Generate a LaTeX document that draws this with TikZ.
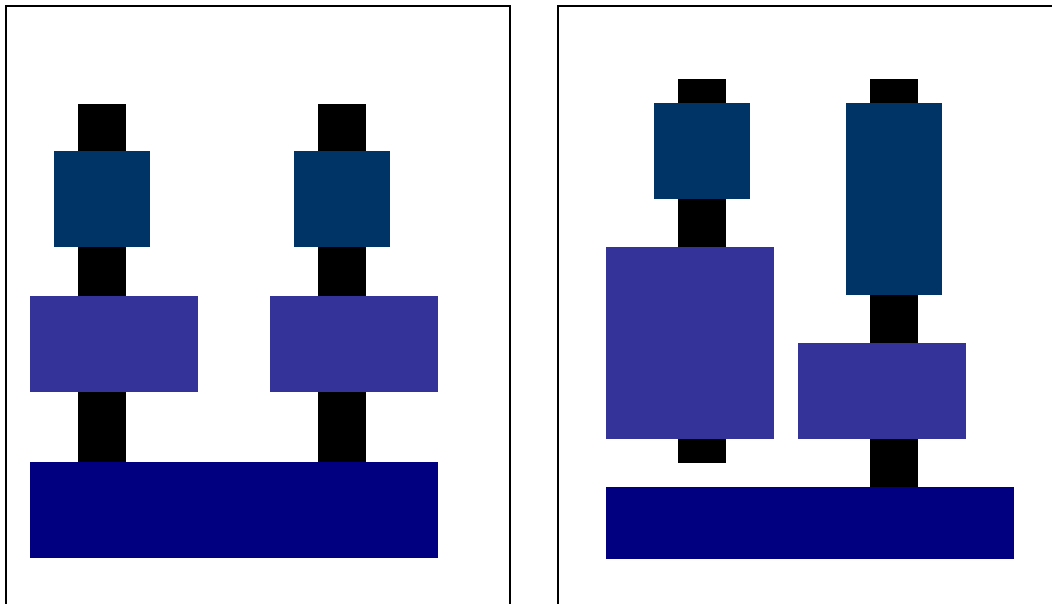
\documentclass[tikz,border=0pt]{standalone}
\usepackage{xcolor}
\usepackage{tikz}
\definecolor{topblue}{HTML}{003366}
\definecolor{midpurple}{HTML}{333399}
\definecolor{basenavy}{HTML}{000080}

\begin{document}
\begin{tikzpicture}[
  x=1pt, y=-1pt,
  blk/.style={inner sep=0pt, outer sep=0pt, draw=none},
  bar/.style={blk, fill=black, minimum width=48pt},
  topbox/.style={blk, fill=topblue, minimum width=96pt},
  midbox/.style={blk, fill=midpurple, minimum width=168pt},
  basebox/.style={blk, fill=basenavy, minimum width=408pt},
  frame/.style={line width=2pt, black},
]
  \useasboundingbox (0,0) rectangle (1052,603);
  \clip (0,0) rectangle (1052,603);

  \draw[frame] (6,620) -- (6,6) -- (510,6) -- (510,620);
  \draw[frame] (558,620) -- (558,6) -- (1070,6);

  \node[bar, minimum height=358pt] (barL1) at (102,283) {};
  \node[bar, minimum height=358pt] (barL2) at (342,283) {};
  \node[topbox, minimum height=96pt] (topL1) at (102,199) {};
  \node[topbox, minimum height=96pt] (topL2) at (342,199) {};
  \node[midbox, minimum height=96pt] (midL1) at (114,344) {};
  \node[midbox, minimum height=96pt] (midL2) at (354,344) {};
  \node[basebox, minimum height=96pt] (baseL) at (234,510) {};

  \node[bar, minimum height=384pt] (barR1) at (702,271) {};
  \node[bar, minimum height=408pt] (barR2) at (894,283) {};
  \node[topbox, minimum height=96pt] (topR1) at (702,151) {};
  \node[topbox, minimum height=192pt] (topR2) at (894,199) {};
  \node[midbox, minimum height=192pt] (midR1) at (690,343) {};
  \node[midbox, minimum height=96pt] (midR2) at (882,391) {};
  \node[basebox, minimum height=72pt] (baseR) at (810,523) {};
\end{tikzpicture}
\end{document}
